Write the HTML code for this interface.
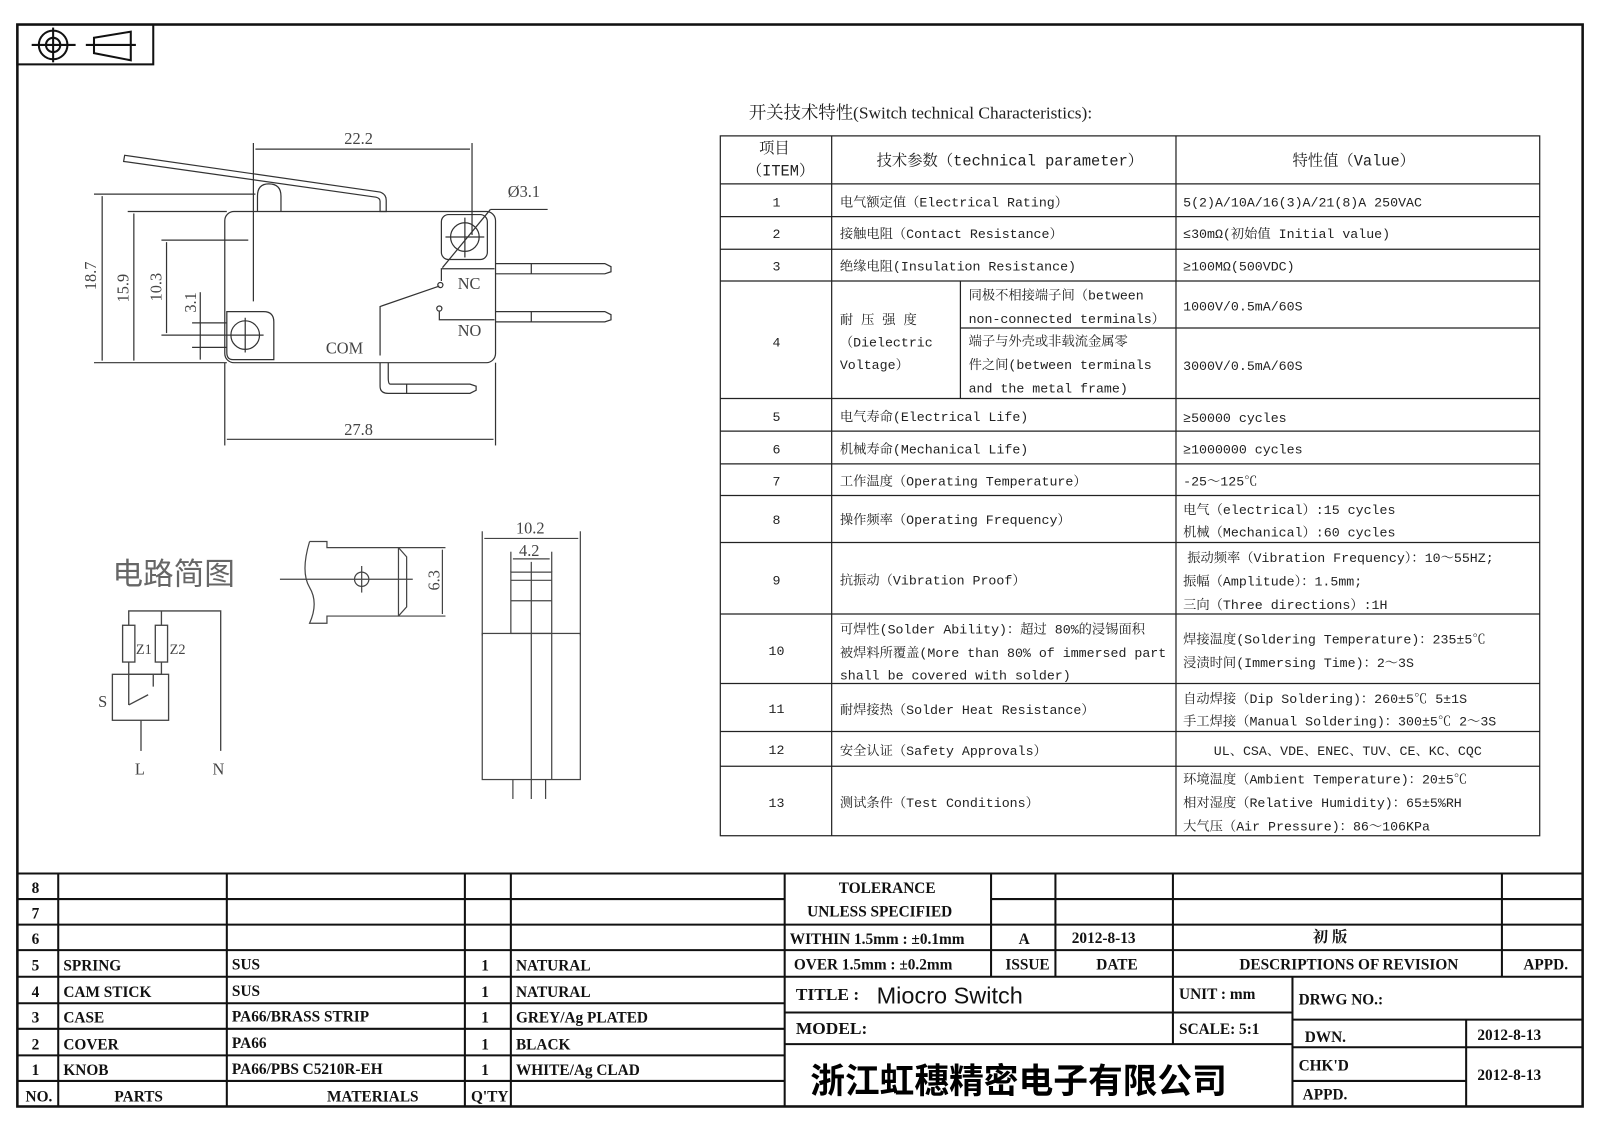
<!DOCTYPE html>
<html><head><meta charset="utf-8">
<style>
html,body{margin:0;padding:0;background:#fff;}
svg{display:block;}
.t{font-family:"Liberation Mono","Noto Serif CJK SC",monospace;font-size:13px;fill:#222;}
.d{font-family:"Liberation Serif",serif;font-size:16px;fill:#444;}
.b{font-family:"Liberation Serif","Noto Serif CJK SC",serif;font-weight:bold;font-size:15px;fill:#111;}
</style></head><body>
<svg width="1600" height="1131" viewBox="0 0 1566 1107" preserveAspectRatio="none" xmlns="http://www.w3.org/2000/svg">
<rect x="0" y="0" width="1566" height="1107" fill="#fff"/>
<rect x="17" y="24" width="1532" height="1059" fill="none" stroke="#111" stroke-width="2.5"/>
<rect x="17" y="24" width="133" height="39" fill="none" stroke="#111" stroke-width="2"/>
<g stroke="#111" stroke-width="2" fill="none">
<circle cx="52" cy="44" r="14"/><circle cx="52" cy="44" r="7"/>
<line x1="31" y1="44" x2="74" y2="44"/><line x1="52" y1="27" x2="52" y2="61"/>
<path d="M92 37 L128 31 L128 59 L92 52 Z"/><line x1="84" y1="44" x2="133" y2="44"/>
</g>

<g stroke="#333" stroke-width="1.2" fill="none">
<path d="M122 152 L372 188 Q378 190 378 196 L378 207 L372 207 L372 197 Q372 194 368 193 L121 158 Z"/>
<path d="M252 207 L252 192 Q252 180 263 180 Q275 180 275 192 L275 207"/>
<rect x="220" y="207" width="265" height="148" rx="9"/>
<rect x="432" y="210" width="45" height="44" rx="7"/>
<circle cx="455" cy="232" r="14"/>
<line x1="455" y1="213" x2="455" y2="252"/><line x1="436" y1="232" x2="474" y2="232"/>
<line x1="433" y1="262" x2="480" y2="205"/><line x1="480" y1="205" x2="536" y2="205"/>
<path d="M222 305 L258 305 Q268 305 268 315 L268 352 L228 352 Q222 352 222 345 Z"/>
<circle cx="240" cy="328" r="14"/>
<line x1="240" y1="311" x2="240" y2="345"/><line x1="222" y1="328" x2="258" y2="328"/>
<path d="M485 258 L592 258 L598 261 L598 266 L592 268 L485 268"/>
<line x1="520" y1="258" x2="520" y2="268"/>
<path d="M485 305 L592 305 L598 308 L598 313 L592 315 L485 315"/>
<line x1="520" y1="305" x2="520" y2="315"/>
<path d="M372 355 L372 378 Q372 385 380 385 L460 385 L466 382 L466 378 L460 376 L382 376 Q380 376 380 370 L380 355"/>
<line x1="398" y1="376" x2="398" y2="385"/>
<path d="M484 263 L432 263 L432 275"/><circle cx="431" cy="279" r="2.5"/>
<path d="M372 348 L372 300 L430 280"/>
<circle cx="430" cy="302" r="2.5"/><path d="M430 305 L430 313 L484 313"/>
<line x1="248" y1="140" x2="248" y2="295"/><line x1="462" y1="140" x2="462" y2="230"/>
<line x1="250" y1="146" x2="460" y2="146"/>
<line x1="92" y1="190" x2="250" y2="190"/><line x1="92" y1="355" x2="222" y2="355"/>
<line x1="100" y1="192" x2="100" y2="353"/>
<line x1="125" y1="207" x2="222" y2="207"/><line x1="131" y1="209" x2="131" y2="353"/>
<line x1="158" y1="235" x2="243" y2="235"/><line x1="158" y1="328" x2="222" y2="328"/>
<line x1="163" y1="237" x2="163" y2="326"/>
<line x1="188" y1="316" x2="222" y2="316"/><line x1="188" y1="340" x2="222" y2="340"/>
<line x1="196" y1="286" x2="196" y2="352"/>
<line x1="220" y1="355" x2="220" y2="436"/><line x1="485" y1="355" x2="485" y2="436"/>
<line x1="222" y1="430" x2="483" y2="430"/>
</g>
<text class="d" x="337" y="141">22.2</text>
<text class="d" x="497" y="193">Ø3.1</text>
<text class="d" x="448" y="283">NC</text>
<text class="d" x="448" y="329">NO</text>
<text class="d" x="319" y="346">COM</text>
<text class="d" x="337" y="426">27.8</text>
<text class="d" transform="translate(94 284) rotate(-90)">18.7</text>
<text class="d" transform="translate(126 296) rotate(-90)">15.9</text>
<text class="d" transform="translate(158 295) rotate(-90)">10.3</text>
<text class="d" transform="translate(192 306) rotate(-90)">3.1</text>

<text x="110" y="572" style="font-family:'Noto Sans CJK SC',sans-serif;font-size:30px;fill:#666">电路简图</text>
<g stroke="#444" stroke-width="1.3" fill="none">
<path d="M126 612 L126 598 L216 598 L216 735"/><path d="M158 612 L158 598"/>
<rect x="120" y="612" width="12" height="36"/><rect x="152" y="612" width="12" height="36"/>
<path d="M126 648 L126 660 L158 660 L158 648"/>
<rect x="110" y="660" width="55" height="45"/>
<path d="M126 660 L126 690 M150 660 L150 672 M126 690 L145 680"/>
<line x1="138" y1="705" x2="138" y2="735"/>
</g>
<text class="d" x="96" y="692">S</text>
<text class="d" x="132" y="758">L</text>
<text class="d" x="208" y="758">N</text>
<text class="d" x="133" y="640" style="font-size:14px">Z1</text>
<text class="d" x="166" y="640" style="font-size:14px">Z2</text>

<g stroke="#444" stroke-width="1.2" fill="none">
<path d="M303 530 L320 530 L320 536 L390 536 L398 545 L398 594 L390 603 L320 603 L320 610 L303 610 Q312 590 303 575 Q294 560 303 530"/>
<line x1="390" y1="536" x2="390" y2="603"/>
<line x1="274" y1="567" x2="404" y2="567"/>
<circle cx="354" cy="567" r="7"/><line x1="354" y1="554" x2="354" y2="580"/>
<line x1="390" y1="536" x2="436" y2="536"/><line x1="390" y1="603" x2="436" y2="603"/>
<line x1="433" y1="538" x2="433" y2="601"/>
</g>
<text class="d" transform="translate(430 578) rotate(-90)">6.3</text>
<g stroke="#444" stroke-width="1.2" fill="none">
<line x1="472" y1="520" x2="472" y2="622"/><line x1="568" y1="520" x2="568" y2="622"/>
<line x1="474" y1="527" x2="566" y2="527"/>
<line x1="500" y1="540" x2="500" y2="560"/><line x1="540" y1="540" x2="540" y2="560"/>
<line x1="502" y1="547" x2="538" y2="547"/>
<rect x="500" y="560" width="40" height="60"/><line x1="500" y1="568" x2="540" y2="568"/><line x1="500" y1="588" x2="540" y2="588"/>
<rect x="472" y="620" width="96" height="143"/>
<line x1="520" y1="550" x2="520" y2="782"/><line x1="540" y1="620" x2="540" y2="763"/>
<line x1="502" y1="763" x2="502" y2="782"/><line x1="534" y1="763" x2="534" y2="782"/>
</g>
<text class="d" x="505" y="522">10.2</text>
<text class="d" x="508" y="544">4.2</text>

<text x="733" y="116" style="font-family:'Liberation Serif','Noto Serif CJK SC',serif;font-size:17px;fill:#222">开关技术特性(Switch technical Characteristics):</text>
<g stroke="#222" stroke-width="1.2" fill="none">
<rect x="705" y="133" width="802" height="685"/>
<line x1="814" y1="133" x2="814" y2="818"/><line x1="1151" y1="133" x2="1151" y2="818"/>
<line x1="940" y1="275" x2="940" y2="390"/><line x1="940" y1="321" x2="1507" y2="321"/>
<line x1="705" y1="180" x2="1507" y2="180"/><line x1="705" y1="212" x2="1507" y2="212"/>
<line x1="705" y1="244" x2="1507" y2="244"/><line x1="705" y1="275" x2="1507" y2="275"/>
<line x1="705" y1="390" x2="1507" y2="390"/><line x1="705" y1="422" x2="1507" y2="422"/>
<line x1="705" y1="454" x2="1507" y2="454"/><line x1="705" y1="485" x2="1507" y2="485"/>
<line x1="705" y1="531" x2="1507" y2="531"/><line x1="705" y1="601" x2="1507" y2="601"/>
<line x1="705" y1="669" x2="1507" y2="669"/><line x1="705" y1="716" x2="1507" y2="716"/>
<line x1="705" y1="750" x2="1507" y2="750"/>
</g>
<g class="t">
<text x="743" y="150" style="font-size:15px">项目</text><text x="731" y="172" style="font-size:15px">（ITEM）</text>
<text x="858" y="162" style="font-size:15px">技术参数（technical parameter）</text>
<text x="1265" y="162" style="font-size:15px">特性值（Value）</text>
<g text-anchor="middle"><text x="760" y="202">1</text><text x="760" y="233">2</text><text x="760" y="265">3</text><text x="760" y="339">4</text><text x="760" y="412">5</text><text x="760" y="444">6</text><text x="760" y="475">7</text><text x="760" y="513">8</text><text x="760" y="572">9</text><text x="760" y="641">10</text><text x="760" y="698">11</text><text x="760" y="738">12</text><text x="760" y="790">13</text></g>
<text x="822" y="202">电气额定值（Electrical Rating）</text>
<text x="1158" y="202">5(2)A/10A/16(3)A/21(8)A  250VAC</text>
<text x="822" y="233">接触电阻（Contact  Resistance）</text>
<text x="1158" y="233">≤30mΩ(初始值 Initial value)</text>
<text x="822" y="265">绝缘电阻(Insulation Resistance)</text>
<text x="1158" y="265">≥100MΩ(500VDC)</text>
<text x="822" y="317">耐 压 强 度</text><text x="822" y="339">（Dielectric</text><text x="822" y="361">Voltage）</text>
<text x="948" y="293">同极不相接端子间（between</text><text x="948" y="316">non-connected terminals）</text>
<text x="948" y="338">端子与外壳或非载流金属零</text><text x="948" y="361">件之间(between terminals</text><text x="948" y="384">and the metal frame)</text>
<text x="1158" y="304">1000V/0.5mA/60S</text><text x="1158" y="362">3000V/0.5mA/60S</text>
<text x="822" y="412">电气寿命(Electrical Life)</text><text x="1158" y="413">≥50000 cycles</text>
<text x="822" y="444">机械寿命(Mechanical Life)</text><text x="1158" y="444">≥1000000 cycles</text>
<text x="822" y="475">工作温度（Operating Temperature）</text><text x="1158" y="475">-25～125℃</text>
<text x="822" y="513">操作频率（Operating Frequency）</text>
<text x="1158" y="503">电气（electrical）:15 cycles</text><text x="1158" y="525">机械（Mechanical）:60 cycles</text>
<text x="822" y="572">抗振动（Vibration Proof）</text>
<text x="1162" y="550">振动频率（Vibration Frequency）：10～55HZ;</text><text x="1158" y="573">振幅（Amplitude）：1.5mm;</text><text x="1158" y="596">三向（Three directions）:1H</text>
<text x="822" y="620">可焊性(Solder Ability)：超过 80%的浸锡面积</text><text x="822" y="643">被焊料所覆盖(More than 80% of immersed part</text><text x="822" y="665">shall be covered with solder)</text>
<text x="1158" y="630">焊接温度(Soldering Temperature)：235±5℃</text><text x="1158" y="653">浸渍时间(Immersing Time)：2～3S</text>
<text x="822" y="699">耐焊接热（Solder Heat Resistance）</text>
<text x="1158" y="688">自动焊接（Dip Soldering)：260±5℃ 5±1S</text><text x="1158" y="710">手工焊接（Manual Soldering)：300±5℃ 2～3S</text>
<text x="822" y="739">安全认证（Safety Approvals）</text>
<text x="1188" y="739">UL、CSA、VDE、ENEC、TUV、CE、KC、CQC</text>
<text x="822" y="790">测试条件（Test Conditions）</text>
<text x="1158" y="767">环境温度（Ambient Temperature)：20±5℃</text><text x="1158" y="790">相对湿度（Relative Humidity)：65±5%RH</text><text x="1158" y="813">大气压（Air Pressure)：86～106KPa</text>
</g>

<g stroke="#111" stroke-width="2" fill="none">
<line x1="17" y1="855" x2="1549" y2="855"/>
<line x1="17" y1="880" x2="768" y2="880"/><line x1="17" y1="905" x2="1549" y2="905"/>
<line x1="17" y1="930" x2="768" y2="930"/><line x1="17" y1="956" x2="1549" y2="956"/>
<line x1="17" y1="982" x2="768" y2="982"/><line x1="17" y1="1007" x2="768" y2="1007"/>
<line x1="17" y1="1033" x2="768" y2="1033"/><line x1="17" y1="1058" x2="768" y2="1058"/>
<line x1="970" y1="880" x2="1549" y2="880"/><line x1="768" y1="930" x2="1549" y2="930"/>
<line x1="57" y1="855" x2="57" y2="1083"/><line x1="222" y1="855" x2="222" y2="1083"/>
<line x1="455" y1="855" x2="455" y2="1083"/><line x1="500" y1="855" x2="500" y2="1083"/>
<line x1="768" y1="855" x2="768" y2="1083"/>
<line x1="970" y1="855" x2="970" y2="956"/><line x1="1033" y1="855" x2="1033" y2="956"/>
<line x1="1148" y1="855" x2="1148" y2="1022"/><line x1="1470" y1="855" x2="1470" y2="956"/>
<line x1="1265" y1="956" x2="1265" y2="1083"/>
<line x1="768" y1="991" x2="1265" y2="991"/><line x1="768" y1="1022" x2="1265" y2="1022"/>
<line x1="1265" y1="998" x2="1549" y2="998"/><line x1="1265" y1="1025" x2="1549" y2="1025"/>
<line x1="1265" y1="1058" x2="1435" y2="1058"/><line x1="1435" y1="998" x2="1435" y2="1083"/>
</g>
<g class="b">
<text x="31" y="874">8</text><text x="31" y="899">7</text><text x="31" y="924">6</text><text x="31" y="950">5</text><text x="31" y="976">4</text><text x="31" y="1001">3</text><text x="31" y="1027">2</text><text x="31" y="1052">1</text><text x="25" y="1078">NO.</text>
<text x="62" y="950">SPRING</text><text x="62" y="976">CAM STICK</text><text x="62" y="1001">CASE</text><text x="62" y="1027">COVER</text><text x="62" y="1052">KNOB</text><text x="112" y="1078">PARTS</text>
<text x="227" y="949">SUS</text><text x="227" y="975">SUS</text><text x="227" y="1000">PA66/BRASS STRIP</text><text x="227" y="1026">PA66</text><text x="227" y="1051">PA66/PBS C5210R-EH</text><text x="320" y="1078">MATERIALS</text>
<text x="471" y="950">1</text><text x="471" y="976">1</text><text x="471" y="1001">1</text><text x="471" y="1027">1</text><text x="471" y="1052">1</text><text x="461" y="1078">Q'TY</text>
<text x="505" y="950">NATURAL</text><text x="505" y="976">NATURAL</text><text x="505" y="1001">GREY/Ag PLATED</text><text x="505" y="1027">BLACK</text><text x="505" y="1052">WHITE/Ag CLAD</text>
<text x="821" y="874">TOLERANCE</text><text x="790" y="897">UNLESS  SPECIFIED</text>
<text x="773" y="924">WITHIN 1.5mm : ±0.1mm</text><text x="777" y="949">OVER 1.5mm : ±0.2mm</text>
<text x="997" y="924">A</text><text x="1049" y="923">2012-8-13</text><text x="1285" y="922">初  版</text>
<text x="984" y="949">ISSUE</text><text x="1073" y="949">DATE</text><text x="1213" y="949">DESCRIPTIONS OF REVISION</text><text x="1491" y="949">APPD.</text>
<text x="779" y="979" style="font-size:17px">TITLE :</text>
<text x="858" y="982" style="font-family:'Liberation Sans',sans-serif;font-size:23px;font-weight:normal">Miocro Switch</text>
<text x="1154" y="978">UNIT :  mm</text><text x="1271" y="983">DRWG NO.:</text>
<text x="779" y="1012" style="font-size:17px">MODEL:</text>
<text x="1154" y="1012">SCALE:  5:1</text>
<text x="1277" y="1020">DWN.</text><text x="1446" y="1018">2012-8-13</text>
<text x="1271" y="1048">CHK'D</text><text x="1446" y="1057">2012-8-13</text>
<text x="1275" y="1076">APPD.</text>
</g>
<text x="793" y="1070" style="font-family:'Noto Sans CJK SC',sans-serif;font-weight:bold;font-size:34px;fill:#000">浙江虹穗精密电子有限公司</text>
</svg>
</body></html>
